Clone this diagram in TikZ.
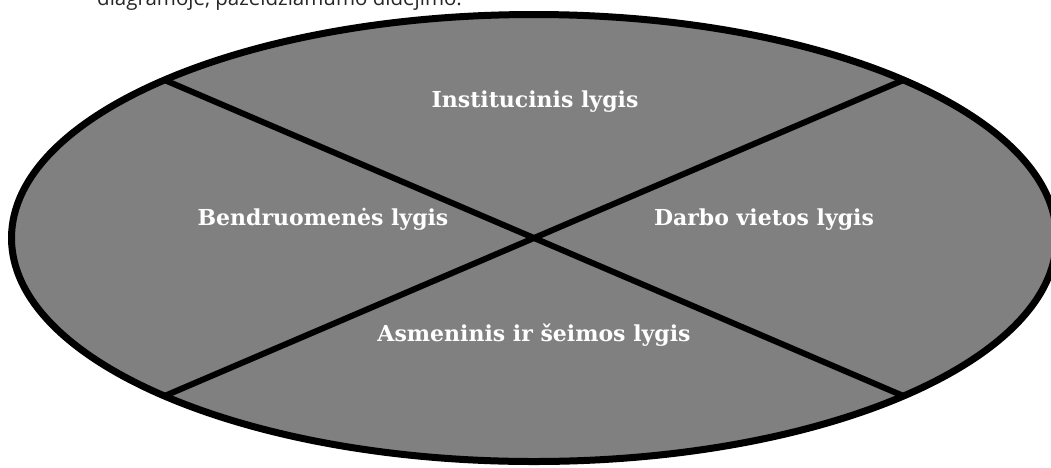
\documentclass[tikz,border=0pt]{standalone}
\usepackage{fontspec}
\setmainfont{DejaVu Serif}
\newfontfamily\virsus{Open Sans}
\tikzstyle{lygis}=[text=white, font=\fontsize{22}{26}\selectfont\bfseries, anchor=base, inner sep=0]
\tikzstyle{skyrius}=[line width=6pt]

\begin{document}
\begin{tikzpicture}[x=1pt,y=-1pt]
\useasboundingbox (0,0) rectangle (1051,467);
\begin{scope}
\clip (0,0) rectangle (1051,467);
\node[anchor=base west, inner sep=0, text=black!85, font=\virsus\fontsize{20.5}{24}\selectfont] (antraste) at (97,5) {diagramoje, pažeidžiamumo didėjimo.};
\draw[line width=7pt, fill=black!50] (534,238) ellipse [x radius=522.5, y radius=-223.5];
\end{scope}
\coordinate (vk) at (164.5,80);
\coordinate (vd) at (903.5,80);
\coordinate (ak) at (164.5,396);
\coordinate (ad) at (903.5,396);
\draw[skyrius] (vk)--(ad);
\draw[skyrius] (vd)--(ak);
\node[lygis] (inst) at (535,107) {Institucinis lygis};
\node[lygis] (bendr) at (323,225) {Bendruomenės lygis};
\node[lygis] (darbo) at (764,225) {Darbo vietos lygis};
\node[lygis] (asm) at (534,341) {Asmeninis ir šeimos lygis};
\end{tikzpicture}
\end{document}
